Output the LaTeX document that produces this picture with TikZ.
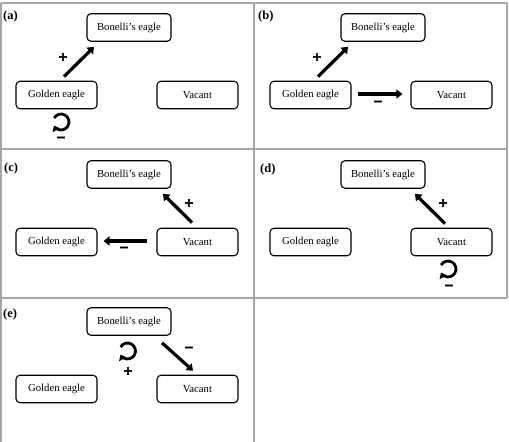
\documentclass[tikz,border=0pt]{standalone}
\usepackage{fontspec}
\setmainfont{Liberation Serif}
\newfontface\signfont[FakeBold=4]{DejaVu Sans Bold}
\usetikzlibrary{arrows.meta}
\begin{document}
\begin{tikzpicture}[x=1pt,y=-1pt,
  box/.style={draw, rounded corners=4pt, line width=1.1pt, minimum height=27.5pt, inner sep=0pt, font=\fontsize{10.7}{12}\selectfont},
  bonbox/.style={box, minimum width=84pt},
  plainbox/.style={box, minimum width=81pt},
  arr/.style={line width=3.2pt, -{Triangle[length=6pt,width=9pt]}},
  looparr/.style={line width=2.8pt, -{Triangle[length=5pt,width=8pt]}},
  sign/.style={inner sep=0pt, font=\signfont\fontsize{11.5}{12}\selectfont},
  lab/.style={inner sep=0pt, anchor=west, font=\fontsize{12.5}{14}\selectfont\bfseries},
  frame/.style={draw=black!35, line width=1.3pt}]
\useasboundingbox (0,0) rectangle (509,442);
% frame
\draw[frame] (1,3) -- (507,3);
\draw[frame] (1,149) -- (507,149);
\draw[frame] (1,298) -- (507,298);
\draw[frame] (1,3) -- (1,442);
\draw[frame] (254,3) -- (254,442);
\draw[frame] (507,3) -- (507,298);
% (a)
\begin{scope}
\node[lab] (labA) at (3,16) {(a)};
\node[bonbox] (bonA) at (129,27.5) {Bonelli’s eagle};
\node[plainbox] (goldA) at (56.5,95) {Golden eagle};
\node[plainbox] (vacA) at (197.5,95) {Vacant};
\draw[arr] ([shift={(7.5,-4)}]goldA.north) -- ([shift={(-35,5)}]bonA.south);
\node[sign] (pA) at (63,57) {+};
\coordinate (loopA) at (61,122);
\draw[looparr] ([shift={(-150:8)}]loopA) arc[start angle=-150, end angle=152, radius=8];
\node[sign] (mA) at (61,139) {−};
\end{scope}
% (b)
\begin{scope}[shift={(254,0)}]
\node[lab] (labB) at (4,16) {(b)};
\node[bonbox] (bonB) at (129,27.5) {Bonelli’s eagle};
\node[plainbox] (goldB) at (56.5,95) {Golden eagle};
\node[plainbox] (vacB) at (197.5,95) {Vacant};
\draw[arr] ([shift={(7.5,-4)}]goldB.north) -- ([shift={(-35,5)}]bonB.south);
\node[sign] (pB) at (63,57) {+};
\draw[arr] ([shift={(6,-1)}]goldB.east) -- ([shift={(-8,-1)}]vacB.west);
\node[sign] (mB) at (124,103) {−};
\end{scope}
% (c)
\begin{scope}[shift={(0,147)}]
\node[lab] (labC) at (4,21) {(c)};
\node[bonbox] (bonC) at (129,27.5) {Bonelli’s eagle};
\node[plainbox] (goldC) at (56.5,95) {Golden eagle};
\node[plainbox] (vacC) at (197.5,95) {Vacant};
\draw[arr] ([shift={(-5.5,-5)}]vacC.north) -- ([shift={(34,5)}]bonC.south);
\node[sign] (pC) at (189,56) {+};
\draw[arr] ([shift={(-9,-1)}]vacC.west) -- ([shift={(6,-1)}]goldC.east);
\node[sign] (mC) at (124,102) {−};
\end{scope}
% (d)
\begin{scope}[shift={(254,147)}]
\node[lab] (labD) at (6,22) {(d)};
\node[bonbox] (bonD) at (129,27.5) {Bonelli’s eagle};
\node[plainbox] (goldD) at (56.5,95) {Golden eagle};
\node[plainbox] (vacD) at (197.5,95) {Vacant};
\draw[arr] ([shift={(-6.5,-4)}]vacD.north) -- ([shift={(32,5)}]bonD.south);
\node[sign] (pD) at (189,56) {+};
\coordinate (loopD) at (194,122);
\draw[looparr] ([shift={(-150:8)}]loopD) arc[start angle=-150, end angle=152, radius=8];
\node[sign] (mD) at (195,140) {−};
\end{scope}
% (e)
\begin{scope}[shift={(0,294)}]
\node[lab] (labE) at (3,20) {(e)};
\node[bonbox] (bonE) at (129,27.5) {Bonelli’s eagle};
\node[plainbox] (goldE) at (56.5,95) {Golden eagle};
\node[plainbox] (vacE) at (197.5,95) {Vacant};
\draw[arr] ([shift={(33,7)}]bonE.south) -- ([shift={(-4.5,-4)}]vacE.north);
\node[sign] (mE) at (189,55) {−};
\coordinate (loopE) at (127.5,57);
\draw[looparr] ([shift={(-150:8)}]loopE) arc[start angle=-150, end angle=152, radius=8];
\node[sign] (pE) at (128,77) {+};
\end{scope}
\end{tikzpicture}
\end{document}
